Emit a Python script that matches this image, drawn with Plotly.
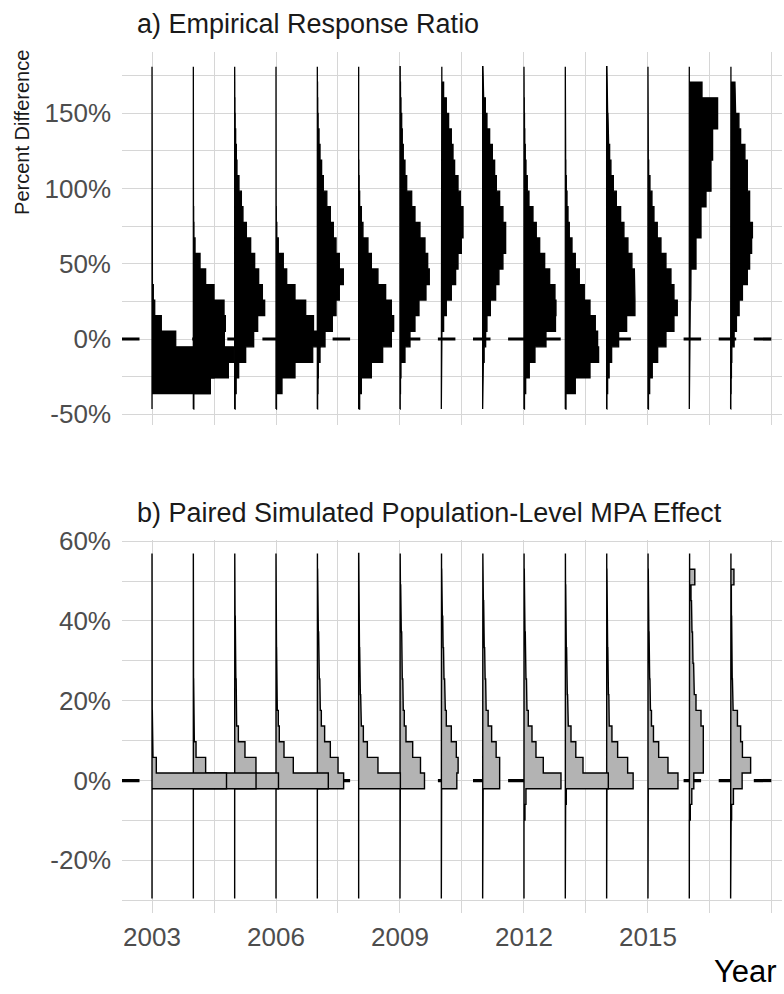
import numpy as np
import plotly.graph_objects as go

# ---------------- data ----------------
years = list(range(2003, 2018))

# histogram bin edges (percent difference), 22 bins per panel
edges_a = np.linspace(-46.5, 180.83, 23)
edges_b = np.linspace(-29.56, 56.9, 23)

# panel a: empirical response ratio, binned densities (bottom bin -> top bin)
dens_a_2003 = [0, 58, 62, 55, 23.7, 9.3, 2.7, 1.3, 0.4, 0.2, 0.1, 0.05, 0, 0, 0, 0, 0, 0, 0, 0, 0, 0]
dens_a_2004 = [0.5, 17, 35, 40, 31, 32, 30.7, 20.7, 12.3, 6.7, 1.7, 0.6, 0.3, 0.1, 0, 0, 0, 0, 0, 0, 0, 0]
dens_a_2005 = [0.5, 1.5, 4, 11, 19, 23, 30, 27.7, 24, 20, 16, 11.7, 8.3, 6.7, 4.3, 2.3, 1.7, 1, 0.5, 0.3, 0.1, 0]
dens_a_2006 = [0.5, 6, 19, 36.7, 44, 37.5, 29.7, 19, 10.7, 7.3, 2.3, 0.8, 0.3, 0.1, 0, 0, 0, 0, 0, 0, 0, 0]
dens_a_2007 = [0.3, 0.7, 1, 2.7, 7.7, 15, 18.7, 22, 26, 22, 18.7, 16, 13, 9.5, 6, 4.3, 2.7, 1.7, 0.8, 0.4, 0.2, 0]
dens_a_2008 = [1, 2.7, 12.7, 24, 32.7, 35, 32.7, 27, 19.3, 12.7, 9.3, 4.3, 2.7, 1, 0.5, 0.2, 0, 0, 0, 0, 0, 0]
dens_a_2009 = [0.2, 0.5, 1, 5, 10, 15, 19, 26, 29.3, 27.7, 25, 20, 15, 11.7, 6.7, 5, 3.3, 2.3, 1.7, 1, 0.5, 0.2]
dens_a_2010 = [0.1, 0.2, 0.3, 0.4, 0.6, 2.3, 5, 10, 14.3, 16.7, 20, 21.7, 21.7, 19, 16.7, 13.3, 11.7, 10, 7.3, 5, 2.3, 0.5]
dens_a_2011 = [0.1, 0.3, 0.7, 1.5, 3, 4.3, 7.7, 13, 16.3, 20.3, 23, 23, 20.3, 17, 13.7, 12, 9.7, 7, 4.3, 2.7, 1, 0.3]
dens_a_2012 = [0.5, 1.7, 5.3, 11, 22, 31.5, 32, 31, 25.7, 20.7, 15.7, 12.3, 9, 5, 3.3, 2, 1.3, 0.8, 0.5, 0.3, 0.1, 0]
dens_a_2013 = [0.7, 10, 24.7, 33.3, 32.3, 30, 24.7, 19, 14, 10, 6.7, 4, 2.7, 1.7, 1, 0.5, 0.3, 0.2, 0.1, 0, 0, 0]
dens_a_2014 = [0.3, 1, 2.5, 5, 12, 20, 28.3, 28.3, 27.7, 25.3, 21.3, 17.3, 14, 9.7, 6.7, 4.3, 3, 2, 1.3, 1, 0.7, 0.3]
dens_a_2015 = [0.5, 1.7, 4.3, 9.7, 18, 26, 29.3, 26, 23, 18, 13, 9.3, 6, 4, 2, 0.7, 0.3, 0.3, 0.2, 0.1, 0, 0]
dens_a_2016 = [0.1, 0.2, 0.3, 0.4, 0.5, 0.7, 1, 1.5, 1.7, 6.7, 6.7, 11.7, 11.7, 16.7, 21.7, 21.7, 23.3, 23.3, 28.3, 28.3, 12.7, 0]
dens_a_2017 = [0.2, 0.5, 0.8, 1.2, 3.5, 5.8, 8.5, 11.8, 16.7, 19, 21, 21.8, 19, 19, 16.7, 16.7, 14.3, 10, 8.3, 5, 4.3, 0.3]

# panel b: paired simulated population-level MPA effect, binned densities
dens_b_2003 = [0, 0, 0, 0, 0, 0, 0, 74.5, 4.3, 1, 0.5, 0.3, 0.2, 0.1, 0, 0, 0, 0, 0, 0, 0, 0]
dens_b_2004 = [0, 0, 0, 0, 0, 0, 0, 62.7, 12.3, 2.7, 1, 0.6, 0.4, 0.3, 0.2, 0.2, 0.1, 0.1, 0, 0, 0, 0]
dens_b_2005 = [0, 0, 0, 0, 0, 0, 0, 43.8, 21.3, 10.3, 3.7, 2, 1.8, 1.5, 1.2, 1, 0.8, 0.6, 0.4, 0.3, 0.2, 0.1]
dens_b_2006 = [0, 0, 0, 0, 0, 0, 0, 52.3, 17.3, 8, 3.3, 2.3, 1.3, 1, 0.8, 0.6, 0.5, 0.4, 0.3, 0.2, 0.1, 0]
dens_b_2007 = [0, 0, 0, 0, 0, 0, 0, 26.3, 20.7, 13, 7.3, 4, 3, 2.5, 2, 1.7, 1.3, 1, 0.7, 0.5, 0.3, 0.1]
dens_b_2008 = [0, 0, 0, 0, 0, 0, 0, 41.7, 19.3, 8.7, 4.7, 2.7, 2, 1.7, 1.3, 1, 0.8, 0.6, 0.4, 0.3, 0.2, 0.1]
dens_b_2009 = [0, 0, 0, 0, 0, 0, 0.3, 24.5, 20.5, 12.7, 6, 4.3, 3.3, 2.8, 2.3, 2, 1.7, 1.3, 1, 0.7, 0.4, 0.2]
dens_b_2010 = [0, 0, 0, 0, 0, 0, 0.3, 15.5, 16.8, 15, 10, 5, 4, 3.3, 2.7, 2.2, 1.8, 1.4, 1, 0.7, 0.4, 0.2]
dens_b_2011 = [0, 0, 0, 0, 0, 0, 0.5, 17, 17, 13.5, 9, 5.5, 3.5, 3, 2.5, 2, 1.6, 1.3, 1, 0.7, 0.4, 0.2]
dens_b_2012 = [0, 0, 0, 0, 0, 1.0, 2.0, 37, 19.3, 12, 8, 4.3, 3, 2.5, 2, 1.7, 1.3, 1, 0.7, 0.5, 0.3, 0.1]
dens_b_2013 = [0, 0, 0, 0, 0, 0.3, 1, 43, 17.7, 10.5, 5.7, 3, 2.3, 2, 1.7, 1.3, 1, 0.8, 0.6, 0.4, 0.2, 0.1]
dens_b_2014 = [0, 0, 0, 0, 0, 0, 0.3, 26.5, 21, 11, 5.3, 2.6, 2.2, 1.8, 1.5, 1.2, 1, 0.8, 0.6, 1.0, 0.3, 0.1]
dens_b_2015 = [0, 0, 0, 0, 0, 0, 0.3, 30, 20, 10.7, 5.5, 3.5, 2.5, 2, 1.7, 1.4, 1.1, 0.9, 0.7, 0.5, 0.3, 0.1]
dens_b_2016 = [0, 0, 0, 0, 0, 1, 2.5, 4.5, 14, 13.3, 14, 11.7, 6.7, 5, 4.3, 3.7, 3.2, 2.7, 2.2, 1.7, 5.5, 0.3]
dens_b_2017 = [0, 0, 0, 0, 0.5, 1, 2.8, 11.5, 20, 11.8, 10, 6.8, 2.5, 1.8, 1.6, 1.4, 1.2, 1, 0.8, 0.7, 3.3, 0.3]

ytick_vals_a = [-50, 0, 50, 100, 150]
ytick_text_a = ["-50%", "0%", "50%", "100%", "150%"]
ytick_vals_b = [-20, 0, 20, 40, 60]
ytick_text_b = ["-20%", "0%", "20%", "40%", "60%"]
xtick_vals = [2003, 2006, 2009, 2012, 2015]
xtick_text = ["2003", "2006", "2009", "2012", "2015"]
reference_value = 0  # dashed "no effect" line

title_a = "a) Empirical Response Ratio"
title_b = "b) Paired Simulated Population-Level MPA Effect"

# ---------------- build ----------------
dens_a = {2003: dens_a_2003, 2004: dens_a_2004, 2005: dens_a_2005, 2006: dens_a_2006,
          2007: dens_a_2007, 2008: dens_a_2008, 2009: dens_a_2009, 2010: dens_a_2010,
          2011: dens_a_2011, 2012: dens_a_2012, 2013: dens_a_2013, 2014: dens_a_2014,
          2015: dens_a_2015, 2016: dens_a_2016, 2017: dens_a_2017}
dens_b = {2003: dens_b_2003, 2004: dens_b_2004, 2005: dens_b_2005, 2006: dens_b_2006,
          2007: dens_b_2007, 2008: dens_b_2008, 2009: dens_b_2009, 2010: dens_b_2010,
          2011: dens_b_2011, 2012: dens_b_2012, 2013: dens_b_2013, 2014: dens_b_2014,
          2015: dens_b_2015, 2016: dens_b_2016, 2017: dens_b_2017}

RIDGE_SCALE = 1 / 41.33  # density units -> years of horizontal extent
XRANGE = [2002.274, 2018.243]


def ridge_xy(year, dens, edges):
    xs = [year]
    ys = [edges[0]]
    for i, d in enumerate(dens):
        h = year + d * RIDGE_SCALE
        xs += [h, h]
        ys += [edges[i], edges[i + 1]]
    xs += [year, year]
    ys += [edges[-1], edges[0]]
    return xs, ys


fig = go.Figure()

dash_line = dict(color="black", width=3.2, dash="17.5px,17.6px")
# dashed zero lines first so the ridges cover them
fig.add_trace(go.Scatter(x=XRANGE, y=[reference_value] * 2, mode="lines", line=dash_line,
                         xaxis="x", yaxis="y", showlegend=False, hoverinfo="skip"))
fig.add_trace(go.Scatter(x=XRANGE, y=[reference_value] * 2, mode="lines", line=dash_line,
                         xaxis="x2", yaxis="y2", showlegend=False, hoverinfo="skip"))

# earlier years drawn last (on top), as in ggridges
for yr in reversed(years):
    xs, ys = ridge_xy(yr, dens_a[yr], edges_a)
    fig.add_trace(go.Scatter(x=xs, y=ys, mode="lines", fill="toself",
                             fillcolor="black", line=dict(color="black", width=1.3),
                             xaxis="x", yaxis="y", showlegend=False, hoverinfo="skip"))
for yr in reversed(years):
    xs, ys = ridge_xy(yr, dens_b[yr], edges_b)
    fig.add_trace(go.Scatter(x=xs, y=ys, mode="lines", fill="toself",
                             fillcolor="#b3b3b3", line=dict(color="black", width=1.4),
                             xaxis="x2", yaxis="y2", showlegend=False, hoverinfo="skip"))

FONT = "Liberation Sans, Arial, Helvetica, sans-serif"
GRID = "#d6d6d6"
TICKC = "#4d4d4d"

xminor = [2001.5, 2004.5, 2007.5, 2010.5, 2013.5, 2016.5, 2018]
common_x = dict(range=XRANGE, tickmode="array", tickvals=xtick_vals,
                showgrid=True, gridcolor=GRID, gridwidth=1.1, zeroline=False,
                showline=False, ticks="",
                minor=dict(tickmode="array", tickvals=xminor, showgrid=True,
                           gridcolor=GRID, gridwidth=1.0, ticks=""))

fig.update_layout(
    width=784, height=994, autosize=False,
    margin=dict(l=122, r=2, t=52, b=81),
    paper_bgcolor="white", plot_bgcolor="white",
    font=dict(family=FONT, color=TICKC),
    xaxis=dict(domain=[0, 1], anchor="y", showticklabels=False, **common_x),
    xaxis2=dict(domain=[0, 1], anchor="y2", matches="x", showticklabels=True,
                ticktext=xtick_text, tickfont=dict(size=26, color=TICKC, family=FONT),
                ticklabelstandoff=6, **common_x),
    yaxis=dict(domain=[0.56678, 1], anchor="x", range=[-57.1, 190.6],
               tickmode="array", tickvals=ytick_vals_a, ticktext=ytick_text_a,
               tickfont=dict(size=26, color=TICKC, family=FONT), ticklabelstandoff=10,
               showgrid=True, gridcolor=GRID, gridwidth=1.1, zeroline=False, ticks="",
               minor=dict(tickmode="array", tickvals=[-25, 25, 75, 125, 175],
                          showgrid=True, gridcolor=GRID, gridwidth=1.0, ticks="")),
    yaxis2=dict(domain=[0, 0.43322], anchor="x2", range=[-33.2, 60.3],
                tickmode="array", tickvals=ytick_vals_b, ticktext=ytick_text_b,
                tickfont=dict(size=26, color=TICKC, family=FONT), ticklabelstandoff=10,
                showgrid=True, gridcolor=GRID, gridwidth=1.1, zeroline=False, ticks="",
                minor=dict(tickmode="array", tickvals=[-30, -10, 10, 30, 50],
                           showgrid=True, gridcolor=GRID, gridwidth=1.0, ticks="")),
)

fig.add_annotation(text=title_a, xref="paper", yref="paper", x=0.0197, y=1.0325,
                   xanchor="left", yanchor="middle", showarrow=False,
                   font=dict(size=27, color="#1a1a1a", family=FONT))
fig.add_annotation(text=title_b, xref="paper", yref="paper", x=0.0197, y=0.4646,
                   xanchor="left", yanchor="middle", showarrow=False,
                   font=dict(size=27, color="#1a1a1a", family=FONT))
fig.add_annotation(text="Percent Difference", xref="paper", yref="paper",
                   x=-0.1515, y=0.906, xanchor="center", yanchor="middle",
                   textangle=-90, showarrow=False,
                   font=dict(size=20, color="#1a1a1a", family=FONT))
fig.add_annotation(text="Year", xref="paper", yref="paper", x=1, y=-0.0685,
                   xanchor="right", yanchor="middle", xshift=-3, showarrow=False,
                   font=dict(size=31, color="black", family=FONT))

fig.write_html("out.html", config={"displayModeBar": False},
               post_script="document.body.style.margin='0';"
                           "document.body.style.overflow='hidden';")
